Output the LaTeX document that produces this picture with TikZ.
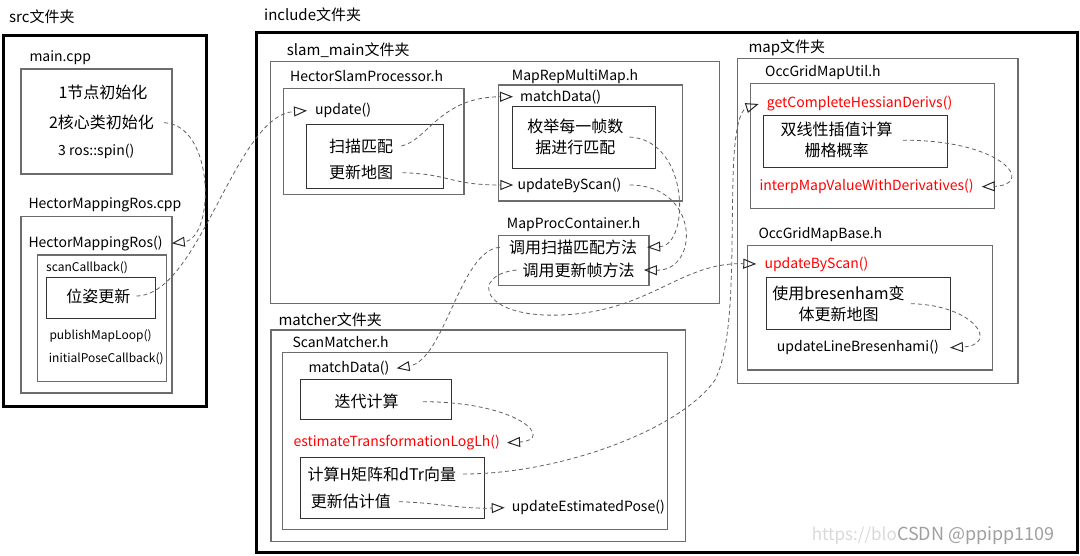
\documentclass[tikz,border=0pt]{standalone}
\usepackage{fontspec}
\setmainfont{Noto Sans CJK SC}
\usetikzlibrary{arrows.meta}
\newcommand\fsz[1]{\fontsize{#1}{21}\selectfont}
\begin{document}
\begin{tikzpicture}[x=1pt,y=-1pt,
  lbl/.style={anchor=west,inner sep=0,font=\fsz{14}},
  sml/.style={anchor=west,inner sep=0,font=\fsz{12}},
  fld/.style={anchor=west,inner sep=0,font=\fsz{15}},
  cn/.style={inner sep=0,font=\fsz{16},align=center},
  cnw/.style={anchor=west,inner sep=0,font=\fsz{16}},
  redtxt/.style={text=red},
  outer/.style={draw=black,line width=3},
  box/.style={draw=gray!85!black,line width=1.5},
  ibox/.style={draw=black!80,line width=1.1},
  conn/.style={draw=gray!75!black,line width=0.8,dash pattern=on 4pt off 3pt,
    -{Triangle[open,length=13pt,width=10pt,line width=1pt,color=black!85]}}
]
\useasboundingbox (0,0) rectangle (1080,555);

% ---------- src ----------
\node[fld] (srcl) at (9,16.7) {src文件夹};
\draw[outer] (3.5,35) rectangle (206.5,406.5);
\node[lbl] (mainl) at (29.3,58) {main.cpp};
\draw[box] (21,69) rectangle (172,174);
\node[cn] (t1) at (103,92) {1节点初始化};
\node[cn] (t2) at (101.5,122.7) {2核心类初始化};
\node[lbl] (t3) at (58,151.7) {3 ros::spin()};
\node[lbl] (hmrcpp) at (28.3,205) {HectorMappingRos.cpp};
\draw[box] (21,216.7) rectangle (172,393);
\node[lbl] (hmr) at (28.3,243.3) {HectorMappingRos()};
\draw[box] (37.7,255) rectangle (166.7,381.7);
\node[sml] (scb) at (46,267.7) {scanCallback()};
\draw[ibox] (46.5,277.5) rectangle (155.5,318.5);
\node[cn] (pose) at (98.3,296) {位姿更新};
\node[sml] (pml) at (49.3,335.7) {publishMapLoop()};
\node[sml] (ipc) at (48.7,359) {initialPoseCallback()};

% ---------- include ----------
\node[fld] (incl) at (264,15) {include文件夹};
\draw[outer] (256.5,32.5) rectangle (1077,552.5);

% slam_main
\node[fld] (sml) at (286.7,50) {slam\_main文件夹};
\draw[box] (270.7,61.7) rectangle (719.3,303.3);
\node[lbl] (hspl) at (290,76) {HectorSlamProcessor.h};
\draw[box] (283.3,88.3) rectangle (464,194.3);
\node[lbl] (upd) at (315,110.7) {update()};
\draw[ibox] (306.5,124.5) rectangle (443.5,188.5);
\node[cnw] (smatch) at (329,146) {扫描匹配};
\node[cnw] (umap) at (329,172.7) {更新地图};

\node[lbl] (mrml) at (511.7,76.7) {MapRepMultiMap.h};
\draw[box] (498.3,85) rectangle (682.3,201);
\node[lbl] (md1) at (520,96.7) {matchData()};
\draw[ibox] (512.5,106.5) rectangle (655.5,168.5);
\node[cn] (enum) at (575.3,137) {枚举每一帧数\\据进行匹配};
\node[lbl] (ubs1) at (517.3,185) {updateByScan()};

\node[lbl] (mpcl) at (506.7,225) {MapProcContainer.h};
\draw[box] (498.3,235.7) rectangle (649,285.3);
\node[cn] (callm) at (573,247.3) {调用扫描匹配方法};
\node[cn] (callu) at (578.7,270) {调用更新帧方法};

% map
\node[fld] (mapl) at (748.3,48.3) {map文件夹};
\draw[box] (737.7,58.3) rectangle (1018,383.3);
\node[lbl] (ogmul) at (765,72.7) {OccGridMapUtil.h};
\draw[box] (750.7,83.3) rectangle (994.3,208.3);
\node[lbl,redtxt] (gch) at (766.7,104) {getCompleteHessianDerivs()};
\draw[ibox] (763.5,115.5) rectangle (947.5,167.5);
\node[cn] (bil) at (836.7,140.2) {双线性插值计算\\栅格概率};
\node[lbl,redtxt] (interp) at (759.3,186.7) {interpMapValueWithDerivatives()};

\node[lbl] (ogmbl) at (758.3,235) {OccGridMapBase.h};
\draw[box] (747.7,245.7) rectangle (992.3,370);
\node[lbl,redtxt] (ubs2) at (764.3,264) {updateByScan()};
\draw[ibox] (766.5,277.5) rectangle (950.5,329.5);
\node[cn] (bres) at (838.5,303.7) {使用bresenham变\\体更新地图};
\node[lbl] (ulb) at (776.7,347.7) {updateLineBresenhami()};

% matcher
\node[fld] (matl) at (278.3,320) {matcher文件夹};
\draw[box] (271,330) rectangle (685.7,541.7);
\node[lbl] (sml2) at (292.3,341.7) {ScanMatcher.h};
\draw[box] (282.3,352.3) rectangle (667.3,529.3);
\node[lbl] (md2) at (308.3,368.3) {matchData()};
\draw[ibox] (300.5,379.5) rectangle (451.5,419.5);
\node[cn] (iter) at (366.7,401.7) {迭代计算};
\node[lbl,redtxt] (etl) at (293.3,442.7) {estimateTransformationLogLh()};
\draw[ibox] (300.5,457.5) rectangle (484.5,518.5);
\node[cnw] (hmat) at (307.3,474) {计算H矩阵和dTr向量};
\node[cnw] (upest) at (310.7,501.7) {更新估计值};
\node[lbl] (uep) at (511.7,507.7) {updateEstimatedPose()};

% watermark
\node[anchor=east,inner sep=0,font=\fsz{17},text=gray!30] (wm1) at (897,536) {https://blo};
\node[anchor=west,inner sep=0,font=\fsz{18},text=gray!75] (wm2) at (897,536) {CSDN @ppipp1109};

% ---------- connectors ----------
\draw[conn] ([xshift=10pt]t2.east) .. controls (215,125) and (215,238) .. ([xshift=9pt]hmr.east);
\draw[conn] ([xshift=6pt]pose.east) .. controls (200,295) and (235,115) .. ([xshift=-8pt]upd.west);
\draw[conn] ([xshift=8pt]smatch.east) .. controls (428,140) and (440,97) .. ([xshift=-7pt]md1.west);
\draw[conn] ([xshift=9pt]umap.east) .. controls (450,174) and (450,185) .. ([xshift=-4pt]ubs1.west);
\draw[conn] ([xshift=6pt]enum.east) .. controls (690,140) and (690,245) .. ([xshift=10pt]callm.east);
\draw[conn] ([xshift=8pt]ubs1.east) .. controls (700,185) and (700,271) .. ([xshift=9pt]callu.east);
\draw[conn] ([xshift=-9pt]callm.west) .. controls (460,250) and (445,360) .. ([xshift=7pt]md2.east);
\draw[conn] ([xshift=-6pt]callu.west) .. controls (470,275) and (480,318) .. (560,315)
   .. controls (650,312) and (680,262) .. ([xshift=-8pt]ubs2.west);
\draw[conn] ([xshift=7pt]hmat.east) .. controls (560,474) and (680,430) .. (715,380)
   .. controls (735,340) and (731,250) .. (733,180)
   .. controls (734,130) and (740,110) .. ([xshift=-8pt]gch.west);
\draw[conn] ([xshift=10pt]bil.east) .. controls (1005,140) and (1035,185) .. ([xshift=8pt]interp.east);
\draw[conn] ([xshift=6pt]bres.east) .. controls (975,305) and (1000,345) .. ([xshift=11pt]ulb.east);
\draw[conn] ([xshift=24pt]iter.east) .. controls (520,402) and (555,440) .. ([xshift=7pt]etl.east);
\draw[conn] ([xshift=8pt]upest.east) .. controls (440,503) and (460,509) .. ([xshift=-7pt]uep.west);
\end{tikzpicture}
\end{document}
